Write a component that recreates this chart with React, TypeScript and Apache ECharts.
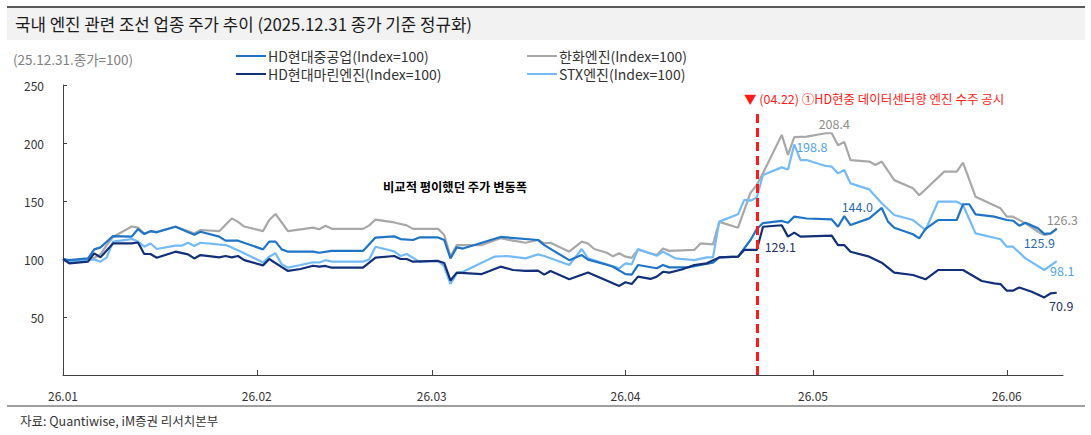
import React, { useEffect, useRef } from 'react';
import * as echarts from 'echarts';

const YEAR = '2026-';
const FONT = '"Noto Sans CJK KR", "Noto Sans", sans-serif';

// x-axis month ticks
const monthTicks = ['2026-01-01', '2026-02-01', '2026-03-01', '2026-04-01', '2026-05-01', '2026-06-01'];
const xEnd = '2026-06-10';
const yTicks = [0, 50, 100, 150, 200, 250];

const seriesNames = ['한화엔진(Index=100)', 'STX엔진(Index=100)', 'HD현대중공업(Index=100)', 'HD현대마린엔진(Index=100)'];

// 한화엔진
const hanwha: [string, number][] = [
  ['01-01', 100], ['01-02', 97.7], ['01-05', 99], ['01-06', 101], ['01-07', 104], ['01-08', 112], ['01-09', 119],
  ['01-12', 128], ['01-13', 127], ['01-14', 122], ['01-15', 124], ['01-16', 123.5], ['01-19', 128], ['01-22', 122],
  ['01-23', 125], ['01-26', 124], ['01-28', 135], ['01-29', 132], ['01-30', 128], ['02-02', 124], ['02-03', 133.6],
  ['02-04', 138.8], ['02-06', 124], ['02-10', 127], ['02-11', 125.6], ['02-12', 128.7], ['02-13', 126], ['02-18', 126],
  ['02-19', 129], ['02-20', 134], ['02-23', 131.5], ['02-25', 129], ['02-26', 126], ['03-02', 126], ['03-03', 120.7],
  ['03-04', 102], ['03-05', 112], ['03-09', 112], ['03-12', 118], ['03-14', 115.8], ['03-16', 114], ['03-18', 116.4],
  ['03-19', 113.4], ['03-20', 114], ['03-23', 106.3], ['03-25', 115], ['03-26', 113.4], ['03-27', 108.6], ['03-29', 105.4],
  ['03-30', 102.3], ['03-31', 105], ['04-01', 102], ['04-02', 101], ['04-03', 108], ['04-06', 103.4], ['04-07', 109],
  ['04-08', 107], ['04-12', 107.8], ['04-13', 113.4], ['04-15', 112.6], ['04-16', 132], ['04-19', 127], ['04-21', 157],
  ['04-22', 163.8], ['04-23', 174], ['04-26', 207], ['04-27', 189.7], ['04-28', 205], ['04-30', 205.5], ['05-03', 208.4],
  ['05-04', 208.4], ['05-05', 198], ['05-06', 201], ['05-07', 185.3], ['05-10', 184], ['05-11', 181], ['05-12', 184],
  ['05-14', 168], ['05-17', 161], ['05-18', 155], ['05-22', 175.3], ['05-24', 175.3], ['05-25', 183], ['05-27', 153.7],
  ['05-31', 143.7], ['06-01', 136.5], ['06-02', 136.5], ['06-04', 130.7], ['06-06', 123.5], ['06-07', 120.7],
  ['06-08', 121.6], ['06-09', 126.3],
];

// STX엔진
const stx: [string, number][] = [
  ['01-01', 100], ['01-02', 97.7], ['01-05', 99], ['01-06', 99.7], ['01-07', 97.7], ['01-08', 101.4], ['01-09', 115],
  ['01-12', 117.2], ['01-13', 115], ['01-14', 110.6], ['01-15', 113.4], ['01-16', 108.6], ['01-19', 111.5], ['01-20', 111.5],
  ['01-21', 114], ['01-22', 111.2], ['01-23', 114], ['01-27', 112], ['01-28', 110], ['01-30', 104.9], ['02-02', 97],
  ['02-03', 102], ['02-04', 104.9], ['02-05', 95.4], ['02-06', 92.5], ['02-08', 94.8], ['02-10', 97.2], ['02-11', 97],
  ['02-12', 99], ['02-13', 97.7], ['02-18', 97.7], ['02-19', 99.7], ['02-20', 110.6], ['02-23', 106.6], ['02-24', 102.6],
  ['02-25', 104.3], ['02-27', 97.7], ['03-02', 98.5], ['03-03', 93.5], ['03-04', 78.4], ['03-05', 87.6], ['03-06', 89],
  ['03-11', 102], ['03-13', 102.6], ['03-16', 100.5], ['03-18', 104], ['03-19', 102.6], ['03-23', 94.8], ['03-25', 108.6],
  ['03-26', 100.5], ['03-31', 92], ['04-01', 96.3], ['04-02', 95.4], ['04-03', 108.5], ['04-06', 102.8], ['04-07', 106.3],
  ['04-09', 100.5], ['04-12', 99], ['04-14', 101.4], ['04-15', 101.4], ['04-16', 132.2], ['04-19', 138.5], ['04-20', 151],
  ['04-21', 150.3], ['04-22', 153], ['04-23', 172.4], ['04-26', 179], ['04-27', 177.2], ['04-28', 198.8], ['04-29', 185.3],
  ['04-30', 185.3], ['05-03', 180.2], ['05-04', 179.6], ['05-05', 173.8], ['05-06', 176.7], ['05-07', 165.2], ['05-10', 160],
  ['05-12', 148], ['05-14', 137.9], ['05-17', 133.6], ['05-19', 125], ['05-21', 149.4], ['05-24', 149.4], ['05-25', 146.6],
  ['05-27', 122.1], ['05-31', 117], ['06-01', 110.6], ['06-02', 110.6], ['06-04', 100.5], ['06-07', 90.5], ['06-09', 98.1],
];

// HD현대중공업
const hdhi: [string, number][] = [
  ['01-01', 100], ['01-02', 99], ['01-05', 100.5], ['01-06', 108.3], ['01-07', 110], ['01-09', 119.8], ['01-12', 119.3],
  ['01-13', 125.8], ['01-14', 121.5], ['01-15', 124], ['01-16', 123], ['01-19', 127.8], ['01-22', 121], ['01-23', 123.5],
  ['01-26', 119.3], ['01-27', 115.8], ['01-29', 115.8], ['02-02', 108.3], ['02-03', 115], ['02-04', 115], ['02-05', 108.3],
  ['02-06', 106.3], ['02-10', 106.3], ['02-11', 105.4], ['02-13', 107], ['02-18', 107], ['02-20', 118.5], ['02-23', 119.5],
  ['02-24', 117.2], ['02-26', 116.4], ['02-27', 118.6], ['03-02', 118.6], ['03-03', 116.4], ['03-04', 100.5], ['03-05', 110],
  ['03-06', 109], ['03-09', 114], ['03-12', 119], ['03-18', 116.4], ['03-19', 112], ['03-23', 99], ['03-25', 103.4],
  ['03-26', 99.5], ['03-29', 95], ['03-30', 93.3], ['04-01', 87], ['04-02', 86.5], ['04-03', 94.8], ['04-06', 92],
  ['04-07', 94.8], ['04-08', 92.8], ['04-11', 92.8], ['04-13', 94.8], ['04-15', 96.8], ['04-16', 101.4], ['04-19', 102],
  ['04-21', 116.4], ['04-22', 125.9], ['04-23', 131], ['04-26', 132.8], ['04-27', 131.3], ['04-28', 136.5], ['04-30', 134.9],
  ['05-04', 134.1], ['05-05', 127.8], ['05-06', 137], ['05-07', 129.3], ['05-10', 135], ['05-12', 144.0], ['05-13', 132.2],
  ['05-14', 127], ['05-17', 121.3], ['05-18', 117.8], ['05-19', 125.9], ['05-21', 133.6], ['05-24', 133.6], ['05-25', 147.2],
  ['05-26', 147.2], ['05-27', 138.5], ['05-30', 136.5], ['06-01', 133.6], ['06-02', 133], ['06-03', 128.7], ['06-04', 131.3],
  ['06-06', 126.4], ['06-07', 121.6], ['06-08', 122.1], ['06-09', 125.9],
];

// HD현대마린엔진
const marine: [string, number][] = [
  ['01-01', 100], ['01-02', 96.3], ['01-05', 97.7], ['01-06', 104.9], ['01-07', 101.4], ['01-09', 113.4], ['01-12', 113.4],
  ['01-13', 114.2], ['01-14', 104.3], ['01-15', 104.3], ['01-16', 101.1], ['01-19', 106.3], ['01-21', 104], ['01-22', 100.5],
  ['01-23', 103.4], ['01-26', 101.4], ['01-27', 102.6], ['01-28', 101.4], ['01-29', 102.6], ['01-30', 99], ['02-02', 94.5],
  ['02-03', 100], ['02-05', 93], ['02-06', 89.7], ['02-08', 91.4], ['02-10', 94.2], ['02-11', 93.4], ['02-12', 94],
  ['02-13', 92.5], ['02-18', 92.6], ['02-20', 101.2], ['02-23', 102.6], ['02-24', 100], ['02-25', 100], ['02-26', 97.7],
  ['03-02', 98.3], ['03-03', 96.5], ['03-04', 81.5], ['03-05', 88.3], ['03-09', 87], ['03-12', 93.4], ['03-14', 90.5],
  ['03-16', 89.7], ['03-18', 90], ['03-19', 86.5], ['03-20', 89.7], ['03-23', 82.5], ['03-26', 88.3], ['03-31', 76.8],
  ['04-01', 80], ['04-02', 78.5], ['04-03', 84.8], ['04-05', 82.8], ['04-06', 84.8], ['04-07', 89], ['04-08', 88.2],
  ['04-10', 91], ['04-12', 94.8], ['04-14', 96.3], ['04-16', 101.4], ['04-19', 102], ['04-20', 107.8], ['04-22', 107.8],
  ['04-23', 127.8], ['04-26', 129.1], ['04-27', 119.3], ['04-28', 122.7], ['04-29', 119.3], ['05-04', 120.1], ['05-05', 112],
  ['05-06', 112], ['05-07', 106.3], ['05-10', 102], ['05-12', 96.8], ['05-14', 88.2], ['05-17', 86.2], ['05-19', 82.5],
  ['05-21', 90.5], ['05-25', 90.5], ['05-28', 81], ['05-30', 79], ['05-31', 78.4], ['06-01', 72.7], ['06-02', 72.7],
  ['06-03', 75.5], ['06-05', 71.8], ['06-07', 66.9], ['06-08', 70.3], ['06-09', 70.9],
];

const eventDate = '2026-04-22';
const eventTop = 226;

// label centre relative to its data point, in pixels
type LabelSpec = { pos: [number, number]; color: string };

const COLORS = {
  hanwha: '#A8A8A8',
  stx: '#74BBF5',
  hdhi: '#1F74C6',
  marine: '#132F78',
};

function ts(s: string) {
  return new Date(s + 'T00:00:00').getTime();
}

function makeSeries(name: string, raw: [string, number][], color: string, labels: Record<string, LabelSpec>) {
  return {
    name,
    type: 'line',
    symbol: 'none',
    showSymbol: true,
    showAllSymbol: true,
    smooth: false,
    lineStyle: { color, width: 2.2 },
    itemStyle: { color },
    emphasis: { disabled: true },
    data: raw.map(([d, v]) => {
      const lab = labels[d];
      const x = ts(YEAR + d);
      if (!lab) return [x, v];
      return {
        value: [x, v],
        symbol: 'circle',
        symbolSize: 1,
        itemStyle: { color: 'rgba(0,0,0,0)' },
        label: {
          show: true,
          position: lab.pos,
          align: 'center',
          verticalAlign: 'middle',
          color: lab.color,
          fontSize: 12.5,
          fontFamily: FONT,
          formatter: v.toFixed(1),
        },
      };
    }),
  };
}

function fmtMonth(val: number) {
  const d = new Date(val);
  return String(d.getFullYear()).slice(2) + '.' + String(d.getMonth() + 1).padStart(2, '0');
}

export default function App() {
  const ref = useRef<HTMLDivElement>(null);

  useEffect(() => {
    document.body.style.margin = '0';
    if (!ref.current) return;
    const chart = echarts.init(ref.current, undefined, { renderer: 'svg' });
    const tickTimes = monthTicks.map(ts);

    const legendBase = {
      top: 49, orient: 'vertical', itemGap: 4, itemWidth: 30, itemHeight: 2, icon: 'rect', padding: 0,
      selectedMode: false,
      textStyle: { fontSize: 14, color: '#333', lineHeight: 14, fontFamily: FONT, padding: [0, 0, 0, -3] },
    };

    const option: any = {
      animation: false,
      backgroundColor: '#ffffff',
      textStyle: { fontFamily: FONT },
      grid: { left: 63, right: 28, top: 85, bottom: 60 },
      legend: [
        { ...legendBase, left: 236, data: [seriesNames[2], seriesNames[3]] },
        { ...legendBase, left: 527, data: [seriesNames[0], seriesNames[1]] },
      ],
      xAxis: {
        type: 'value',
        min: tickTimes[0],
        max: ts(xEnd),
        axisLine: { show: true, lineStyle: { color: '#404040', width: 1 } },
        axisTick: { show: true, inside: true, length: 5, customValues: tickTimes, lineStyle: { color: '#404040' } },
        axisLabel: {
          customValues: tickTimes,
          formatter: (v: number) => fmtMonth(v),
          color: '#333', fontSize: 12, margin: 14, fontFamily: FONT,
        },
        splitLine: { show: false },
      },
      yAxis: {
        type: 'value',
        min: yTicks[0],
        max: yTicks[yTicks.length - 1],
        interval: 50,
        axisLine: { show: true, lineStyle: { color: '#404040', width: 1 } },
        axisTick: { show: true, inside: true, length: 4, lineStyle: { color: '#404040' } },
        axisLabel: {
          formatter: (v: number) => (v === 0 ? '' : String(v)),
          color: '#333', fontSize: 12, margin: 19, fontFamily: FONT,
        },
        splitLine: { show: false },
      },
      series: [
        makeSeries(seriesNames[0], hanwha, COLORS.hanwha, {
          '05-04': { pos: [3, -9], color: '#8C8C8C' },
          '06-09': { pos: [6, -8], color: '#8C8C8C' },
        }),
        makeSeries(seriesNames[1], stx, COLORS.stx, {
          '04-28': { pos: [18, 3], color: '#4FA3EA' },
          '06-09': { pos: [6, 10], color: '#4FA3EA' },
        }),
        makeSeries(seriesNames[2], hdhi, COLORS.hdhi, {
          '05-12': { pos: [-24, -1], color: '#2A6AAE' },
          '06-09': { pos: [-17, 14], color: '#2A6AAE' },
        }),
        {
          ...makeSeries(seriesNames[3], marine, COLORS.marine, {
            '04-26': { pos: [-1, 22], color: '#1F3464' },
            '06-09': { pos: [5, 13], color: '#1F3464' },
          }),
          markLine: {
            silent: true,
            symbol: ['none', 'none'],
            label: { show: false },
            lineStyle: { color: '#FF1A1A', type: [9, 5], width: 3 },
            data: [[{ coord: [ts(eventDate), 0] }, { coord: [ts(eventDate), eventTop] }]],
          },
        },
      ],
      graphic: [
        { type: 'rect', shape: { x: 7, y: 8, width: 1078, height: 32 }, style: { fill: '#F2F2F2' }, silent: true },
        { type: 'line', shape: { x1: 7, y1: 7, x2: 1085, y2: 7 }, style: { stroke: '#595959', lineWidth: 2 }, silent: true },
        {
          type: 'text', x: 15, y: 24,
          style: { text: '국내 엔진 관련 조선 업종 주가 추이 (2025.12.31 종가 기준 정규화)', fill: '#1a1a1a', fontSize: 16.8, fontFamily: FONT, verticalAlign: 'middle', align: 'left' },
        },
        {
          type: 'text', x: 13, y: 59,
          style: { text: '(25.12.31.종가=100)', fill: '#808080', fontSize: 13.5, fontFamily: FONT, verticalAlign: 'middle', align: 'left' },
        },
        {
          type: 'text', x: 744, y: 98,
          style: { text: '▼ (04.22) ①HD현중 데이터센터향 엔진 수주 공시', fill: '#FF1A1A', fontSize: 12.5, fontFamily: FONT, verticalAlign: 'middle', align: 'left' },
        },
        {
          type: 'text', x: 383, y: 187,
          style: { text: '비교적 평이했던 주가 변동폭', fill: '#000', fontSize: 12.3, fontWeight: 'bold', fontFamily: FONT, verticalAlign: 'middle', align: 'left' },
        },
        { type: 'line', shape: { x1: 7, y1: 406, x2: 1085, y2: 406 }, style: { stroke: '#7F7F7F', lineWidth: 1.5 }, silent: true },
        {
          type: 'text', x: 20, y: 420,
          style: { text: '자료: Quantiwise, iM증권 리서치본부', fill: '#333', fontSize: 12.5, fontFamily: FONT, verticalAlign: 'middle', align: 'left' },
        },
      ],
    };

    chart.setOption(option);
    return () => chart.dispose();
  }, []);

  return <div ref={ref} style={{ width: 1091, height: 435 }} />;
}
